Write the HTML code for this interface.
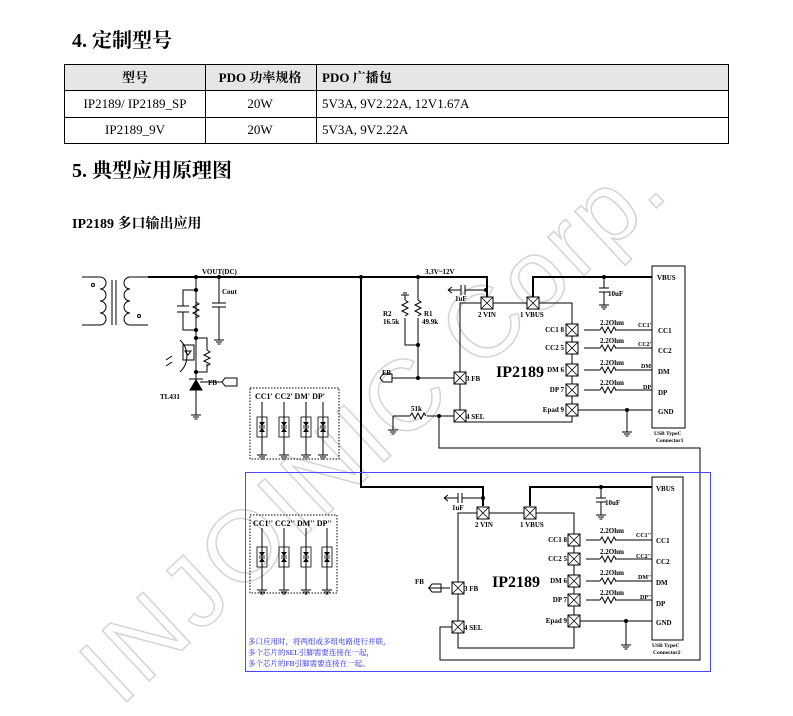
<!DOCTYPE html><html><head><meta charset="utf-8"><style>
body{margin:0;background:#fff;width:793px;height:716px;overflow:hidden;position:relative;font-family:"Liberation Serif","Noto Serif CJK SC",serif}
</style></head><body>
<svg width="793" height="716" viewBox="0 0 793 716" xmlns="http://www.w3.org/2000/svg" style="position:absolute;left:0;top:0" font-family="Liberation Serif, Noto Serif CJK SC, serif">
<defs>
<g id="pin"><rect x="-6" y="-6" width="12" height="12" fill="#fff" stroke="#000" stroke-width="1"/><path d="M-6-6L6 6M6-6L-6 6" stroke="#000" stroke-width="0.8"/></g>
<g id="gnd"><path d="M-5 0H5M-3 2H3M-1.5 4H1.5" stroke="#000" stroke-width="1"/></g>
<path id="res" d="M0 0l2-3 3 6 3-6 3 6 3-6 2 3" fill="none" stroke="#000" stroke-width="1"/>
<g id="tvs"><rect x="-5" y="0" width="10" height="20" fill="none" stroke="#000" stroke-width="0.8"/><path d="M-3 5h6l-3 4zM-3 15h6l-3-4z" fill="#000"/><path d="M-3 9h6M-3 11h6" stroke="#000" stroke-width="0.8"/></g>
</defs>
<!-- watermark -->
<text x="0" y="0" transform="translate(120,708) rotate(-43)" font-size="100" fill="none" stroke="#d4d4d4" stroke-width="1.5" font-family="Liberation Sans, sans-serif" letter-spacing="4">INJOINIC Corp.</text>

<text x="72" y="47" font-size="20" font-weight="bold">4. 定制型号</text>
<rect x="64" y="64" width="664" height="26" fill="#e6e6e6"/>
<g stroke="#000" stroke-width="1" fill="none"><rect x="64.5" y="64.5" width="664" height="79"/><path d="M64 90.5H728M64 117.5H728M205.5 64V143M316.5 64V143"/></g>
<g font-size="13"><text x="135" y="82" text-anchor="middle" font-weight="bold">型号</text><text x="260" y="82" text-anchor="middle" font-weight="bold">PDO 功率规格</text><text x="322" y="82" font-weight="bold">PDO 广播包</text>
<text x="135" y="108" text-anchor="middle">IP2189/ IP2189_SP</text><text x="260" y="108" text-anchor="middle">20W</text><text x="322" y="108">5V3A, 9V2.22A, 12V1.67A</text>
<text x="135" y="134" text-anchor="middle">IP2189_9V</text><text x="260" y="134" text-anchor="middle">20W</text><text x="322" y="134">5V3A, 9V2.22A</text></g>
<text x="72" y="177" font-size="20" font-weight="bold">5. 典型应用原理图</text>
<text x="72" y="228" font-size="14" font-weight="bold">IP2189 多口输出应用</text>

<g stroke="#000" fill="none" stroke-width="1">
<path d="M82 277H100a6 6 0 0 1 0 12a6 6 0 0 1 0 12a6 6 0 0 1 0 12a6 6 0 0 1 0 12H82"/>
<path d="M112 280V325M116 280V325" />
<path d="M148 277H130a6 6 0 0 0 0 12a6 6 0 0 0 0 12a6 6 0 0 0 0 12a6 6 0 0 0 0 12H148"/>
<circle cx="93" cy="285" r="1.5"/><circle cx="139" cy="316" r="1.5"/>
<path d="M148 277H487V303M533 303V277H652M361 277V487H483V506" stroke-width="2"/>
<path d="M219 277V303M212 303H226M212 307H226M219 307V340"/>
<use href="#gnd" x="219" y="340"/>
<path d="M196 277V290H183V306M183 312V330H196V290M177 306H189M177 312H189"/>
<use href="#res" transform="translate(196,302) rotate(90)"/>
<path d="M196 330V372M196 338H207V350M207 364V372H196"/>
<use href="#res" transform="translate(207,350) rotate(90)"/>
<path d="M183 345H194V360H183Z"/><path d="M185 351h6l-3 4z"/>
<path d="M180 340a22 22 0 0 1 0 32"/>
<path d="M172 356l-6 4M172 362l-6 4"/>
<path d="M196 372V415"/><path d="M190 390h12l-6-10z" fill="#000"/><path d="M189 379h14"/>
<path d="M200 382H222l3-4h12v8h-12l-3-4"/>
<use href="#gnd" x="196" y="415"/>
<rect x="250" y="388" width="89" height="71" stroke-dasharray="1.5,1.5"/>
<path d="M262 402V455M284 402V455M306 402V455M323 402V455"/>
<path d="M418 277V300M418 318V345M405 300V295M405 318V345H418V378M392 378H455"/>
<path d="M401 295h8M403 293h4"/>
<path d="M380 378l3-4h9v8h-9z"/>
<path d="M393 416H410M427 416H455M393 416V430M439 416V448H700V660H440V627H456"/>
<use href="#gnd" x="393" y="430"/>
<path d="M486 290H465M461 290H448M465 285V295M461 285V295M448 290l4-3M448 290l4 3"/>
<rect x="460" y="303" width="112" height="119"/>
<path d="M584 330H600M615 330H652M584 348H600M615 348H652M584 370H600M615 370H652M584 390H600M615 390H652M578 410H652M627 410V432"/>
<use href="#gnd" x="627" y="432"/>
<path d="M604 277V288M599 288H609M599 292H609M604 292V305"/><use href="#gnd" x="604" y="305"/>
<rect x="652" y="266" width="33" height="162"/>
<path d="M483 498H462M458 498H444M462 493V503M458 493V503M444 498l4-3M444 498l4 3"/>
<path d="M530 506V487H652" stroke-width="2"/>
<rect x="458" y="513" width="116" height="135"/>
<path d="M586 540H600M615 540H652M586 559H600M615 559H652M586 581H600M615 581H652M586 600H600M615 600H652M580 621H652M626 621V645"/>
<use href="#gnd" x="626" y="645"/>
<path d="M601 487V498M596 498H606M596 502H606M601 502V515"/><use href="#gnd" x="601" y="515"/>
<rect x="652" y="477" width="31" height="163"/>
<path d="M429 588l3-4h9v8h-9zM428 588H450"/>
<rect x="250" y="515" width="87" height="78" stroke-dasharray="1.5,1.5"/>
<path d="M262 528V590M284 528V590M306 528V590M327 528V590"/>
</g>
<g fill="#000">
<circle cx="196" cy="277" r="2"/><circle cx="219" cy="277" r="2"/><circle cx="196" cy="290" r="2"/><circle cx="196" cy="330" r="2"/><circle cx="196" cy="338" r="2"/><circle cx="196" cy="372" r="2"/>
<circle cx="361" cy="277" r="2"/><circle cx="418" cy="277" r="2"/><circle cx="418" cy="345" r="2"/><circle cx="418" cy="378" r="2"/><circle cx="439" cy="416" r="2"/><circle cx="486" cy="290" r="2"/><circle cx="604" cy="277" r="2"/><circle cx="627" cy="410" r="2"/>
<circle cx="483" cy="498" r="2"/><circle cx="601" cy="487" r="2"/><circle cx="626" cy="621" r="2"/>
</g>
<use href="#res" transform="translate(405,300) rotate(90)"/><use href="#res" transform="translate(418,300) rotate(90)"/>
<use href="#res" x="410" y="416"/>
<g><use href="#res" x="600" y="330"/><use href="#res" x="600" y="348"/><use href="#res" x="600" y="370"/><use href="#res" x="600" y="390"/>
<use href="#res" x="600" y="540"/><use href="#res" x="600" y="559"/><use href="#res" x="600" y="581"/><use href="#res" x="600" y="600"/></g>
<g><use href="#tvs" x="262" y="417"/><use href="#tvs" x="284" y="417"/><use href="#tvs" x="306" y="417"/><use href="#tvs" x="323" y="417"/>
<use href="#gnd" x="262" y="455"/><use href="#gnd" x="284" y="455"/><use href="#gnd" x="306" y="455"/><use href="#gnd" x="323" y="455"/>
<use href="#tvs" x="262" y="547"/><use href="#tvs" x="284" y="547"/><use href="#tvs" x="306" y="547"/><use href="#tvs" x="327" y="547"/>
<use href="#gnd" x="262" y="590"/><use href="#gnd" x="284" y="590"/><use href="#gnd" x="306" y="590"/><use href="#gnd" x="327" y="590"/></g>
<g><use href="#pin" x="487" y="303"/><use href="#pin" x="533" y="303"/><use href="#pin" x="572" y="330"/><use href="#pin" x="572" y="348"/><use href="#pin" x="572" y="370"/><use href="#pin" x="572" y="390"/><use href="#pin" x="572" y="410"/><use href="#pin" x="460" y="378"/><use href="#pin" x="460" y="416"/>
<use href="#pin" x="483" y="513"/><use href="#pin" x="530" y="513"/><use href="#pin" x="574" y="540"/><use href="#pin" x="574" y="559"/><use href="#pin" x="574" y="581"/><use href="#pin" x="574" y="600"/><use href="#pin" x="574" y="621"/><use href="#pin" x="458" y="588"/><use href="#pin" x="458" y="627"/></g>
<rect x="245.5" y="472.5" width="465" height="199" fill="none" stroke="#4a4aff" stroke-width="1"/>
<g font-size="7" font-weight="bold">
<text x="202" y="274">VOUT(DC)</text><text x="222" y="294">Cout</text><text x="208" y="385">FB</text><text x="160" y="399">TL431</text>
<text x="255" y="399" font-size="8">CC1'  CC2'  DM'  DP'</text>
<text x="425" y="274">3.3V~12V</text><text x="455" y="301">1uF</text>
<text x="383" y="316">R2</text><text x="383" y="324">16.5k</text><text x="424" y="316">R1</text><text x="422" y="324">49.9k</text>
<text x="382" y="375">FB</text><text x="411" y="411">51k</text>
<text x="478" y="317">2  VIN</text><text x="520" y="317">1  VBUS</text>
<text x="466" y="381">3  FB</text><text x="466" y="419">4  SEL</text>
<text x="564" y="332" text-anchor="end">CC1  8</text><text x="564" y="350" text-anchor="end">CC2  5</text><text x="564" y="372" text-anchor="end">DM  6</text><text x="564" y="392" text-anchor="end">DP  7</text><text x="564" y="412" text-anchor="end">Epad 9</text>
<text x="608" y="296">10uF</text>
<text x="600" y="325">2.2Ohm</text><text x="600" y="343">2.2Ohm</text><text x="600" y="365">2.2Ohm</text><text x="600" y="385">2.2Ohm</text>
<text x="638" y="327" font-size="6">CC1'</text><text x="638" y="346" font-size="6">CC2'</text><text x="641" y="368" font-size="6">DM'</text><text x="643" y="389" font-size="6">DP'</text>
<text x="657" y="280">VBUS</text><text x="658" y="333">CC1</text><text x="658" y="353">CC2</text><text x="658" y="374">DM</text><text x="658" y="395">DP</text><text x="658" y="414">GND</text>
<text x="654" y="435" font-size="5.5">USB TypeC</text><text x="656" y="442" font-size="5.5">Connector1</text>
<text x="253" y="526" font-size="8">CC1''  CC2''  DM''  DP''</text>
<text x="452" y="510">1uF</text><text x="475" y="527">2  VIN</text><text x="520" y="527">1  VBUS</text>
<text x="464" y="591">3  FB</text><text x="464" y="630">4  SEL</text><text x="415" y="584">FB</text>
<text x="567" y="542" text-anchor="end">CC1  8</text><text x="567" y="561" text-anchor="end">CC2  5</text><text x="567" y="583" text-anchor="end">DM  6</text><text x="567" y="602" text-anchor="end">DP  7</text><text x="567" y="623" text-anchor="end">Epad 9</text>
<text x="605" y="505">10uF</text>
<text x="600" y="533">2.2Ohm</text><text x="600" y="554">2.2Ohm</text><text x="600" y="575">2.2Ohm</text><text x="600" y="595">2.2Ohm</text>
<text x="636" y="537" font-size="6">CC1''</text><text x="636" y="558" font-size="6">CC2''</text><text x="638" y="579" font-size="6">DM''</text><text x="640" y="599" font-size="6">DP''</text>
<text x="656" y="491">VBUS</text><text x="656" y="543">CC1</text><text x="656" y="564">CC2</text><text x="656" y="585">DM</text><text x="656" y="606">DP</text><text x="656" y="625">GND</text>
<text x="652" y="647" font-size="5.5">USB TypeC</text><text x="653" y="654" font-size="5.5">Connector2</text>
</g>
<text x="496" y="377" font-size="16" font-weight="bold">IP2189</text>
<text x="492" y="587" font-size="16" font-weight="bold">IP2189</text>
<g font-size="7.5" fill="#2222ee"><text x="248" y="644">多口应用时，将两组或多组电路进行并联，</text><text x="248" y="655">多个芯片的SEL引脚需要连接在一起，</text><text x="248" y="666">多个芯片的FB引脚需要连接在一起。</text></g>
</svg>
</body></html>
